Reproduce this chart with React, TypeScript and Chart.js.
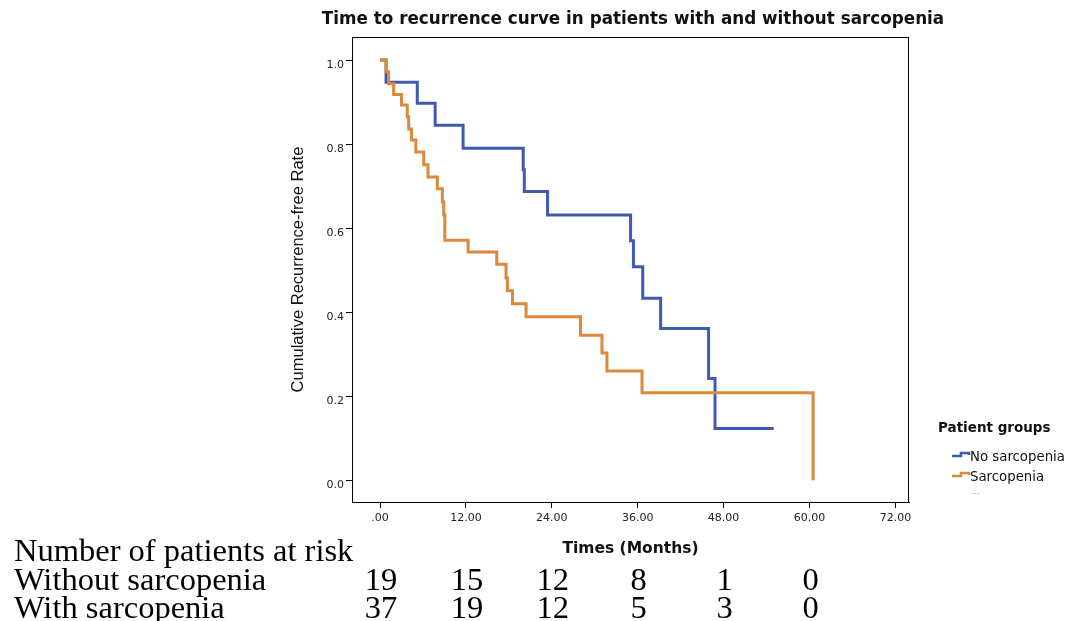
import React, { useEffect, useRef } from "react";
import { Chart, registerables } from "chart.js";

Chart.register(...registerables);

// ---- Data ----
const chartTitle = "Time to recurrence curve in patients with and without sarcopenia";
const xAxisTitle = "Times (Months)";
const yAxisTitle = "Cumulative Recurrence-free Rate";
const legendTitle = "Patient groups";
const seriesNames = ["No sarcopenia", "Sarcopenia"];

const xTickValues = [0, 12, 24, 36, 48, 60, 72];
const xTickLabels = [".00", "12.00", "24.00", "36.00", "48.00", "60.00", "72.00"];
const yTickValues = [0, 0.2, 0.4, 0.6, 0.8, 1.0];
const yTickLabels = ["0.0", "0.2", "0.4", "0.6", "0.8", "1.0"];

const noSarcTimes = [0, 0.84, 5.2, 7.7, 11.6, 20.0, 20.15, 23.4, 35.0, 35.4, 36.7, 39.2, 45.9, 46.8, 55.0];
const noSarcSurv = [1.0, 0.947, 0.897, 0.845, 0.79, 0.739, 0.687, 0.631, 0.57, 0.508, 0.433, 0.361, 0.242, 0.123, 0.123];

const sarcTimes = [0, 0.84, 1.2, 1.9, 3.0, 3.8, 4.0, 4.4, 5.0, 6.1, 6.7, 8.0, 8.7, 8.9, 9.05, 12.3, 16.3, 17.6, 17.8, 18.5, 20.4, 28.0, 31.0, 31.7, 36.6, 60.5];
const sarcSurv = [1.0, 0.972, 0.944, 0.918, 0.893, 0.865, 0.836, 0.81, 0.781, 0.751, 0.722, 0.694, 0.662, 0.631, 0.571, 0.543, 0.514, 0.481, 0.451, 0.42, 0.389, 0.345, 0.303, 0.26, 0.208, 0.0];

const riskHeader = "Number of patients at risk";
const riskRowLabels = ["Without sarcopenia", "With sarcopenia"];
const riskTimes = [0, 12, 24, 36, 48, 60];
const riskNoSarc = [19, 15, 12, 8, 1, 0];
const riskSarc = [37, 19, 12, 5, 3, 0];

const BLUE = "#3F5AAE";
const ORANGE = "#D98A3B";
const SANS = '"Liberation Sans", Arial, sans-serif';
const WIDE = '"DejaVu Sans", Verdana, sans-serif';
const SERIF = '"Liberation Serif", "Times New Roman", serif';

const decorPlugin = {
  id: "decor",
  afterDraw(chart: any) {
    const { ctx, chartArea: a, scales } = chart;
    ctx.save();
    // frame
    ctx.strokeStyle = "#000";
    ctx.lineWidth = 1;
    ctx.strokeRect(a.left + 0.5, a.top + 0.5, a.right - a.left - 1, a.bottom - a.top);

    ctx.fillStyle = "#111";
    ctx.textBaseline = "middle";
    // title
    ctx.font = "bold 16.8px " + WIDE;
    ctx.textAlign = "center";
    ctx.fillText(chartTitle, 633, 20);

    // x title
    ctx.font = "bold 15.5px " + WIDE;
    ctx.fillText(xAxisTitle, (a.left + a.right) / 2, 549);

    // y title
    ctx.save();
    ctx.translate(298, (a.top + a.bottom) / 2);
    ctx.rotate(-Math.PI / 2);
    ctx.font = "16.5px " + SANS;
    ctx.fillText(yAxisTitle, 0, 0);
    ctx.restore();

    // legend
    ctx.textAlign = "left";
    ctx.font = "bold 13.5px " + WIDE;
    ctx.fillText(legendTitle, 938, 428);
    const colors = [BLUE, ORANGE];
    const ys = [457, 477];
    ctx.font = "13.3px " + WIDE;
    for (let i = 0; i < 2; i++) {
      const y = ys[i];
      ctx.strokeStyle = colors[i];
      ctx.lineWidth = 2.5;
      ctx.beginPath();
      ctx.moveTo(952, y - 1);
      ctx.lineTo(961, y - 1);
      ctx.lineTo(961, y - 4);
      ctx.lineTo(969, y - 4);
      ctx.lineTo(969, y - 2);
      ctx.stroke();
      ctx.fillStyle = "#111";
      ctx.fillText(seriesNames[i], 970, y + 1);
    }
    ctx.fillStyle = "#888";
    ctx.font = "9px " + SANS;
    ctx.fillText("...", 972, 492);

    // at-risk table
    const xs = scales.x;
    ctx.fillStyle = "#000";
    ctx.font = "32.5px " + SERIF;
    ctx.textBaseline = "alphabetic";
    ctx.textAlign = "left";
    ctx.fillText(riskHeader, 14, 561);
    ctx.fillText(riskRowLabels[0], 14, 590);
    ctx.fillText(riskRowLabels[1], 14, 618);
    ctx.textAlign = "center";
    for (let i = 0; i < riskTimes.length; i++) {
      const px = xs.getPixelForValue(riskTimes[i]) + 1;
      ctx.fillText(String(riskNoSarc[i]), px, 590);
      ctx.fillText(String(riskSarc[i]), px, 618);
    }
    ctx.restore();
  },
};

export default function App() {
  const ref = useRef<HTMLCanvasElement | null>(null);
  useEffect(() => {
    if (!ref.current) return;
    const chart = new Chart(ref.current, {
      type: "line",
      data: {
        datasets: [
          {
            label: seriesNames[0],
            data: noSarcTimes.map((t, i) => ({ x: t, y: noSarcSurv[i] })),
            borderColor: BLUE,
            backgroundColor: BLUE,
            borderWidth: 3,
            pointRadius: 0,
            stepped: "before",
            fill: false,
            order: 1,
          },
          {
            label: seriesNames[1],
            data: sarcTimes.map((t, i) => ({ x: t, y: sarcSurv[i] })),
            borderColor: ORANGE,
            backgroundColor: ORANGE,
            borderWidth: 3,
            pointRadius: 0,
            stepped: "before",
            fill: false,
            order: 0,
          },
        ],
      },
      options: {
        animation: false,
        responsive: false,
        devicePixelRatio: 1,
        layout: { padding: { left: 0, top: 37, right: 158, bottom: 0 } },
        plugins: {
          legend: { display: false },
          title: { display: false },
          tooltip: { enabled: false },
        },
        scales: {
          x: {
            type: "linear",
            min: -3.92,
            max: 73.9,
            afterBuildTicks: (s: any) => {
              s.ticks = xTickValues.map((v) => ({ value: v }));
            },
            afterFit: (s: any) => {
              s.height = 119;
            },
            ticks: {
              callback: (v: any) => {
                const i = xTickValues.indexOf(Number(v));
                return i >= 0 ? xTickLabels[i] : "";
              },
              font: { family: WIDE, size: 11 },
              color: "#222",
              padding: 4,
              maxRotation: 0,
              autoSkip: false,
            },
            grid: { drawOnChartArea: false, drawTicks: true, tickLength: 6, color: "#000" },
            border: { display: true, color: "#000", width: 1 },
          },
          y: {
            type: "linear",
            min: -0.052,
            max: 1.055,
            afterBuildTicks: (s: any) => {
              s.ticks = yTickValues.map((v) => ({ value: v }));
            },
            afterFit: (s: any) => {
              s.width = 352;
            },
            ticks: {
              callback: (v: any) => {
                const i = yTickValues.findIndex((t) => Math.abs(t - Number(v)) < 1e-6);
                return i >= 0 ? yTickLabels[i] : "";
              },
              font: { family: WIDE, size: 11 },
              color: "#222",
              padding: 2,
              labelOffset: 5,
              autoSkip: false,
            },
            grid: { drawOnChartArea: false, drawTicks: true, tickLength: 6, color: "#000" },
            border: { display: true, color: "#000", width: 1 },
          },
        },
      },
      plugins: [decorPlugin],
    });
    return () => chart.destroy();
  }, []);

  return (
    <div style={{ position: "fixed", left: 0, top: 0, width: 1067, height: 621, background: "#fff" }}>
      <canvas ref={ref} width={1067} height={621} style={{ width: 1067, height: 621, display: "block" }} />
    </div>
  );
}
